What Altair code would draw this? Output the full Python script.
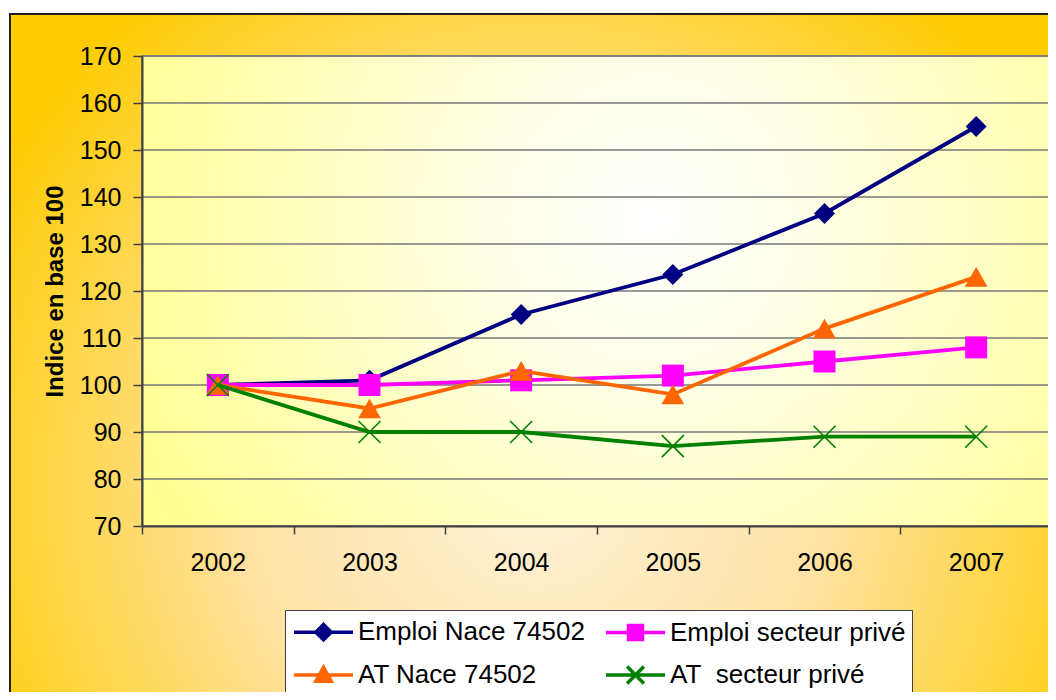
import altair as alt
import pandas as pd

FONT = "Liberation Sans"

years = ["2002", "2003", "2004", "2005", "2006", "2007"]
series_names = ["Emploi Nace 74502", "Emploi secteur privé", "AT Nace 74502", "AT\u00a0 secteur privé"]
emploi_nace = [100, 101, 115, 123.5, 136.5, 155]
emploi_prive = [100, 100, 101, 102, 105, 108]
at_nace = [100, 95, 103, 98, 112, 123]
at_prive = [100, 90, 90, 87, 89, 89]
y_ticks = [70, 80, 90, 100, 110, 120, 130, 140, 150, 160, 170]
grid_values = [80, 90, 100, 110, 120, 130, 140, 150, 160]

colors = ["#000080", "#FF00FF", "#FF6600", "#008000"]
values_by_series = [emploi_nace, emploi_prive, at_nace, at_prive]

W, H = 910, 470

yscale = alt.Scale(domain=[70, 170], nice=False, zero=False)
xscale = alt.Scale(type="band", paddingInner=0, paddingOuter=0)

yaxis = alt.Axis(
    title="Indice en base 100", values=y_ticks, grid=False, zindex=1,
    domainColor="#404040", domainWidth=2, tickColor="#404040", tickWidth=1.5,
    tickSize=9, labelFontSize=25, labelFont=FONT, labelColor="black",
    labelPadding=12, titleFont=FONT, titleFontSize=24, titleFontWeight="bold",
    titleColor="black", titleAngle=270, titleBaseline="alphabetic",
    titleAlign="center", titleX=-80, titleY=H / 2,
)
xaxis = alt.Axis(
    title=None, labelAngle=0, tickBand="extent", zindex=1, grid=False,
    domainColor="#404040", domainWidth=2, tickColor="#404040", tickWidth=1.5,
    tickSize=8, labelFontSize=25, labelPadding=16, labelFont=FONT,
    labelColor="black",
)

one = pd.DataFrame({"a": [0]})

outer_grad = alt.RadialGradient(
    gradient="radial",
    stops=[
        alt.GradientStop(color="#FFF2D8", offset=0),
        alt.GradientStop(color="#FFE3A6", offset=0.45),
        alt.GradientStop(color="#FFCC00", offset=1),
    ],
    x1=0.5, y1=0.62, r1=0, x2=0.5, y2=0.62, r2=0.6,
)
plot_grad = alt.RadialGradient(
    gradient="radial",
    stops=[
        alt.GradientStop(color="#FFFFFF", offset=0),
        alt.GradientStop(color="#FFFFE6", offset=0.3),
        alt.GradientStop(color="#FFFF92", offset=1),
    ],
    x1=0.56, y1=0.42, r1=0, x2=0.56, y2=0.42, r2=0.62,
)

outer = alt.Chart(one).mark_rect(fill=outer_grad, stroke="#202020", strokeWidth=2).encode(
    x=alt.value(-132), x2=alt.value(918), y=alt.value(-42), y2=alt.value(654)
)
plotbg = alt.Chart(one).mark_rect(fill=plot_grad, stroke="#808080", strokeWidth=2).encode(
    x=alt.value(0), x2=alt.value(W), y=alt.value(0), y2=alt.value(H)
)
grid = alt.Chart(pd.DataFrame({"value": grid_values})).mark_rule(
    color="#777777", strokeWidth=1.5
).encode(y=alt.Y("value:Q", scale=yscale, axis=yaxis))

shapes = ["diamond", "square", "triangle-up", "M-1,-1L1,1M-1,1L1,-1"]
sizes = [440, 484, 520, 484]

layers = [outer, plotbg, grid]
for name, vals, col, shp, sz in zip(series_names, values_by_series, colors, shapes, sizes):
    df = pd.DataFrame({"year": years, "value": vals, "series": name})
    base = alt.Chart(df).encode(
        x=alt.X("year:O", scale=xscale, axis=xaxis, sort=years),
        y=alt.Y("value:Q", scale=yscale, axis=yaxis),
    )
    layers.append(base.mark_line(color=col, strokeWidth=3.8))
    if shp.startswith("M"):
        layers.append(base.mark_point(shape=shp, filled=False, color=col, size=sz,
                                      strokeWidth=1.6, opacity=1))
    else:
        layers.append(base.mark_point(shape=shp, filled=True, color=col, size=sz,
                                      strokeWidth=0, opacity=1))

# legend symbols: line + marker (entries are laid out column by column)
legend_order = [0, 2, 1, 3]
legend_names = [series_names[i] for i in legend_order]
legend_colors = [colors[i] for i in legend_order]
legend_paths_all = [
    "M-0.929,0L3.286,0M0.629,0L1.179,-0.55L1.729,0L1.179,0.55Z",
    "M-0.929,0L3.286,0M0.679,-0.5L1.679,-0.5L1.679,0.5L0.679,0.5Z",
    "M-0.929,0L3.286,0M1.179,-0.55L1.729,0.45L0.629,0.45Z",
    "M-0.929,0L3.286,0M0.579,-0.6L1.779,0.6M0.579,0.6L1.779,-0.6",
]
legend_paths = [legend_paths_all[i] for i in legend_order]
leg = alt.Legend(
    title=None, orient="none", legendX=143, legendY=554, columns=2,
    columnPadding=13, rowPadding=12, padding=6, fillColor="white",
    strokeColor="#404040", symbolSize=784, symbolStrokeWidth=3.5,
    labelFontSize=26, labelFont=FONT, labelColor="black", labelOffset=35,
    labelLimit=0, symbolOpacity=1,
)
legend_layer = alt.Chart(pd.DataFrame({"series": legend_names})).transform_filter(
    "false"
).mark_point(opacity=1, strokeWidth=3).encode(
    fill=alt.Fill("series:N", scale=alt.Scale(domain=legend_names, range=legend_colors), legend=leg),
    stroke=alt.Stroke("series:N", scale=alt.Scale(domain=legend_names, range=legend_colors), legend=leg),
    shape=alt.Shape("series:N", scale=alt.Scale(domain=legend_names, range=legend_paths), legend=leg),
)
layers.append(legend_layer)

chart = alt.layer(*layers).properties(
    width=W, height=H,
    padding={"left": 1, "top": 5, "right": -13, "bottom": -19},
).configure_view(stroke=None).configure(background="white")

chart.save("out.html", embed_options={"renderer": "svg", "actions": False})
